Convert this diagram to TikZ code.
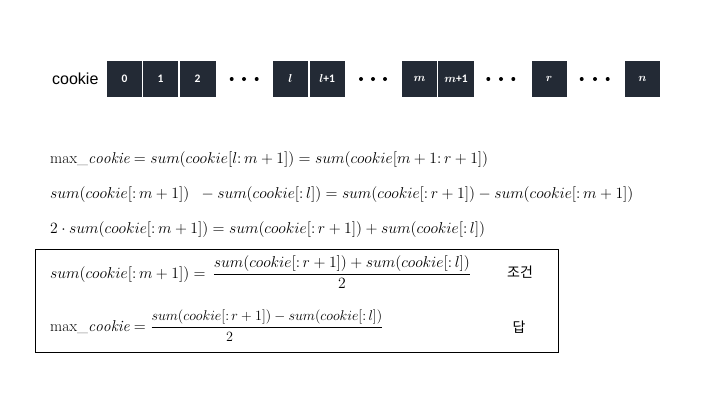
\documentclass[tikz,border=0pt]{standalone}
\usepackage{fontspec}
\usepackage{amsmath}
\usepackage{anyfontsize}
\usepackage{graphicx}
\newfontfamily\cjk{Noto Sans CJK KR}
\newfontfamily\labelsans{Liberation Sans}
\newfontfamily\cellfont{Carlito}
\definecolor{cellfill}{HTML}{232A35}
\newcommand\cl{\mathpunct{:}}
\newcommand\ck{cookie}
\newcommand\smallpart[1]{\scalebox{0.9}{$#1$}}
\begin{document}
\begin{tikzpicture}[x=1pt,y=-1pt,
  cell/.style={fill=cellfill, minimum width=35pt, minimum height=35.5pt, inner sep=0pt,
    text=white, font=\cellfont\bfseries\boldmath\fontsize{11.5}{13}\selectfont},
  arrdot/.style={circle, fill=black, inner sep=0pt, minimum size=4pt},
  eq/.style={anchor=base west, inner sep=0pt, font=\fontsize{15.7}{18}\selectfont},
  tag/.style={inner sep=0pt, font=\cjk\fontsize{14}{16}\selectfont},
  frame/.style={draw=black, line width=0.9pt}]
\useasboundingbox (0,0) rectangle (720,405);

% array of cookies
\node[anchor=west, inner sep=0pt, font=\labelsans\fontsize{16}{19}\selectfont] (lbl) at (52,79) {cookie};
\node[cell] (c0) at (124.5,79) {0};
\node[cell] (c1) at (160.5,79) {1};
\node[cell, minimum width=36pt] (c2) at (197.6,79) {2};
\node[arrdot] (d1a) at (231.7,79) {};
\node[arrdot] (d1b) at (244,79) {};
\node[arrdot] (d1c) at (256.7,79) {};
\node[cell] (cl) at (290.5,79) {$l$};
\node[cell] (cl1) at (327.2,79) {$l$+1};
\node[arrdot] (d2a) at (361,79) {};
\node[arrdot] (d2b) at (373,79) {};
\node[arrdot] (d2c) at (385,79) {};
\node[cell] (cm) at (419.5,79) {$m$};
\node[cell, minimum width=36pt] (cm1) at (456,79) {$m$+1};
\node[arrdot] (d3a) at (488.3,79) {};
\node[arrdot] (d3b) at (501,79) {};
\node[arrdot] (d3c) at (513.3,79) {};
\node[cell] (cr) at (549.2,79) {$r$};
\node[arrdot] (d4a) at (581.7,79) {};
\node[arrdot] (d4b) at (595,79) {};
\node[arrdot] (d4c) at (607.7,79) {};
\node[cell] (cn) at (642.5,79) {$n$};

% derivation
\node[eq] (e1) at (50,163) {$\mathrm{max}\_\mathit{\ck} = sum(\ck[l\cl m+1]) = sum(\ck[m+1\cl r+1])$};
\node[eq] (e2) at (50,198) {$sum(\ck[\cl m+1])\;\; - sum(\ck[\cl l]) = sum(\ck[\cl r+1]) - sum(\ck[\cl m+1])$};
\node[eq] (e3) at (50,233) {$2\cdot sum(\ck[\cl m+1]) = sum(\ck[\cl r+1]) + sum(\ck[\cl l])$};

% result box
\draw[frame] (35,249) rectangle (558,352);
\node[eq] (e4) at (50,278) {$sum(\ck[\cl m+1]) =\, \dfrac{sum(\ck[\cl r+1]) + sum(\ck[\cl l])}{2}$};
\node[tag] (t1) at (520,272) {조건};
\node[eq] (e5) at (50,331) {$\mathrm{max}\_\mathit{\ck} = \dfrac{\smallpart{sum(\ck[\cl r+1]) - sum(\ck[\cl l])}}{\smallpart{2}}$};
\node[tag] (t2) at (519,327) {답};
\end{tikzpicture}
\end{document}
